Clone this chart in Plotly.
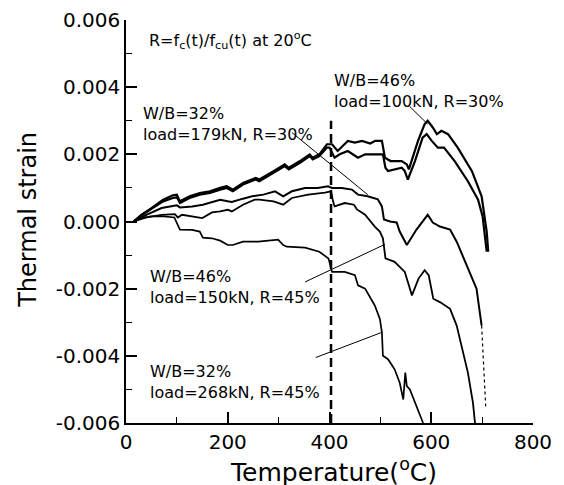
import plotly.graph_objects as go

# ---- data (temperature in deg C, thermal strain) ----
A_T = [15, 30, 50, 73, 92, 100, 106, 125, 145, 165, 185, 198, 210, 230, 255, 262, 290, 312, 320, 342, 361, 367,
       380, 395, 405, 416, 436, 450, 464, 480, 490, 503, 509, 520, 542, 552, 556, 574, 587, 593, 603, 611, 620,
       633, 652, 680, 699, 705, 709, 712]
A_S = [0, 0.0002, 0.0004, 0.00065, 0.00078, 0.0008, 0.0006, 0.00075, 0.00085, 0.0009, 0.001, 0.00105, 0.00095,
       0.00115, 0.0013, 0.00125, 0.0015, 0.0017, 0.0016, 0.0018, 0.002, 0.0019, 0.002, 0.0023, 0.0023, 0.0021,
       0.0024, 0.00235, 0.0024, 0.00232, 0.0024, 0.0024, 0.0019, 0.0018, 0.0018, 0.0017, 0.00155, 0.0024, 0.0029,
       0.003, 0.0028, 0.0026, 0.0027, 0.0026, 0.0022, 0.0015, 0.00075, 0.00015, -0.0003, -0.0009]

B_T = [15, 30, 50, 73, 92, 100, 106, 125, 145, 165, 185, 198, 210, 230, 255, 262, 290, 312, 320, 342, 361, 367,
       380, 395, 400, 410, 420, 436, 456, 470, 489, 505, 510, 515, 542, 548, 554, 568, 583, 591, 601, 613, 625,
       646, 672, 692, 701, 705, 709]
B_S = [0, 0.00018, 0.00038, 0.0006, 0.0007, 0.00072, 0.00055, 0.0007, 0.0008, 0.00085, 0.00095, 0.001, 0.0009,
       0.0011, 0.00125, 0.0012, 0.00145, 0.00165, 0.00155, 0.00175, 0.00195, 0.00185, 0.00195, 0.0022, 0.0022,
       0.0019, 0.002, 0.0021, 0.0019, 0.002, 0.002, 0.002, 0.0016, 0.0015, 0.0016, 0.0015, 0.00125, 0.0018, 0.0025,
       0.0026, 0.0024, 0.0022, 0.0022, 0.0018, 0.0012, 0.00065, 0.00015, -0.0003, -0.0009]

C_T = [15, 40, 70, 100, 106, 130, 151, 170, 185, 200, 208, 230, 248, 270, 293, 309, 326, 352, 377, 397, 405, 424,
       444, 456, 475, 495, 503, 507, 519, 532, 538, 552, 571, 593, 603, 617, 637, 650, 670, 689, 699, 703, 707]
C_S = [0, 0.0002, 0.0004, 0.00048, 0.00042, 0.00045, 0.0005, 0.00058, 0.00065, 0.0006, 0.00058, 0.00068, 0.00075,
       0.0008, 0.0009, 0.00075, 0.0009, 0.001, 0.001, 0.00105, 0.001, 0.001, 0.00095, 0.0008, 0.00075, 0.00066,
       0.00045, 0.00006, 0.0, -0.00003, -0.0003, -0.0007, -0.00024, 0.0002, -0.00003, -0.00015, -0.00024, -0.0006,
       -0.0013, -0.002, -0.0031, -0.0045, -0.0055]
C_SOLID_END = 699  # after this temperature the record is faint / dotted

D_T = [15, 40, 70, 96, 102, 110, 150, 169, 185, 200, 208, 230, 253, 262, 290, 309, 326, 358, 391, 403, 407, 410,
       430, 448, 454, 470, 489, 499, 505, 510, 528, 548, 556, 562, 575, 587, 595, 604, 617, 637, 650, 662, 672,
       682, 686]
D_S = [0, 0.00012, 0.0002, 0.00022, 0.00012, 0.0002, 0.0001, 0.00027, 0.0003, 0.00035, 0.0003, 0.0005, 0.00065,
       0.00065, 0.0006, 0.0005, 0.0007, 0.0008, 0.00086, 0.0009, 0.0006, 0.00045, 0.00055, 0.0005, 0.00036, 0.0002,
       -0.00015, -0.0003, -0.0005, -0.0011, -0.0012, -0.0015, -0.0019, -0.0022, -0.0017, -0.00145, -0.0016, -0.0023,
       -0.0024, -0.0026, -0.0031, -0.0039, -0.0045, -0.0054, -0.006]

E_T = [15, 30, 50, 75, 95, 102, 106, 130, 145, 151, 169, 185, 200, 210, 230, 260, 290, 299, 309, 316, 352, 380,
       398, 405, 430, 450, 456, 470, 489, 499, 503, 505, 515, 528, 538, 545, 549, 552, 558, 571, 584]
E_S = [0, 0.0001, 0.00015, 0.00015, 0.00012, -0.0001, -0.00024, -0.00025, -0.0003, -0.00048, -0.0005, -0.00057,
       -0.0007, -0.0007, -0.0006, -0.0006, -0.00055, -0.00054, -0.0007, -0.00075, -0.00078, -0.0009, -0.0011,
       -0.0015, -0.0015, -0.0016, -0.0019, -0.002, -0.0025, -0.0029, -0.0033, -0.004, -0.0041, -0.0044, -0.0048,
       -0.0053, -0.0045, -0.0049, -0.005, -0.0055, -0.006]

X_TICKS = [0, 200, 400, 600, 800]
X_TICKTEXT = ["0", "200", "400", "600", "800"]
Y_TICKS = [-0.006, -0.004, -0.002, 0.0, 0.002, 0.004, 0.006]
Y_TICKTEXT = ["-0.006", "-0.004", "-0.002", "0.000", "0.002", "0.004", "0.006"]

X_TITLE = "Temperature(<sup>o</sup>C)"
Y_TITLE = "Thermal strain"

DASH_T = 403
DASH_RANGE = [-0.006, 0.003]

LABELS = [
    "R=f<sub>c</sub>(t)/f<sub>cu</sub>(t) at 20<sup>o</sup>C",
    "W/B=46%<br>load=100kN, R=30%",
    "W/B=32%<br>load=179kN, R=30%",
    "W/B=46%<br>load=150kN, R=45%",
    "W/B=32%<br>load=268kN, R=45%",
]
LABEL_T = [42, 405, 29, 43, 43]
LABEL_S = [0.0058, 0.00455, 0.00357, -0.00131, -0.00413]

# leader lines: label end -> curve point
LEAD_T0 = [558, 326, 352, 373]
LEAD_S0 = [0.00342, 0.00265, -0.0018, -0.00405]
LEAD_T1 = [593, 475, 509, 503]
LEAD_S1 = [0.0029, 0.0008, -0.00068, -0.0033]

FONT = "DejaVu Sans"

fig = go.Figure()
for T, S, w in [(A_T, A_S, 2.2), (B_T, B_S, 2.2), (D_T, D_S, 1.8), (E_T, E_S, 1.7)]:
    fig.add_trace(go.Scatter(x=T, y=S, mode="lines", line=dict(color="black", width=w), showlegend=False))

k = C_T.index(C_SOLID_END)
fig.add_trace(go.Scatter(x=C_T[:k + 1], y=C_S[:k + 1], mode="lines",
                         line=dict(color="black", width=2), showlegend=False))
fig.add_trace(go.Scatter(x=C_T[k:], y=C_S[k:], mode="lines",
                         line=dict(color="black", width=1.2, dash="dot"), showlegend=False))

fig.add_shape(type="line", xref="x", yref="y", x0=DASH_T, x1=DASH_T, y0=DASH_RANGE[0], y1=DASH_RANGE[1],
              line=dict(color="black", width=2.5, dash="9px,5px"))

for t0, s0, t1, s1 in zip(LEAD_T0, LEAD_S0, LEAD_T1, LEAD_S1):
    fig.add_shape(type="line", xref="x", yref="y", x0=t0, y0=s0, x1=t1, y1=s1,
                  line=dict(color="black", width=1))

for txt, t, s in zip(LABELS, LABEL_T, LABEL_S):
    fig.add_annotation(x=t, y=s, xref="x", yref="y", text=txt, showarrow=False, xanchor="left",
                       yanchor="top", align="left", font=dict(family=FONT, size=16, color="black"))

# axis titles
fig.add_annotation(x=0.509, y=-0.117, xref="paper", yref="paper", text=X_TITLE, showarrow=False,
                   xanchor="center", yanchor="middle", font=dict(family=FONT, size=25, color="black"))
fig.add_annotation(x=-0.241, y=0.504, xref="paper", yref="paper", text=Y_TITLE, showarrow=False,
                   textangle=-90, xanchor="center", yanchor="middle",
                   font=dict(family=FONT, size=24, color="black"))

# the page body adds an 8px offset, so the figure is 8px smaller and its margins compensate
fig.update_layout(
    width=556, height=477,
    margin=dict(l=118, r=31, t=12, b=62),
    paper_bgcolor="white", plot_bgcolor="white",
    font=dict(family=FONT, color="black"),
    xaxis=dict(range=[0, 800], tickvals=X_TICKS, ticktext=X_TICKTEXT, ticks="inside", ticklen=11,
               tickwidth=1.5, tickcolor="black", showline=True, linecolor="black", linewidth=1.5,
               showgrid=False, zeroline=False, tickfont=dict(size=20, family=FONT), automargin=False,
               minor=dict(dtick=100, ticks="inside", ticklen=6, tickcolor="black", tickwidth=1.2)),
    yaxis=dict(range=[-0.006, 0.006], tickvals=Y_TICKS, ticktext=Y_TICKTEXT, ticks="inside", ticklen=11,
               tickwidth=1.5, tickcolor="black", showline=True, linecolor="black", linewidth=1.5,
               showgrid=False, zeroline=False, tickfont=dict(size=20, family=FONT), automargin=False,
               minor=dict(dtick=0.001, ticks="inside", ticklen=6, tickcolor="black", tickwidth=1.2)),
)

fig.write_html("out.html")
